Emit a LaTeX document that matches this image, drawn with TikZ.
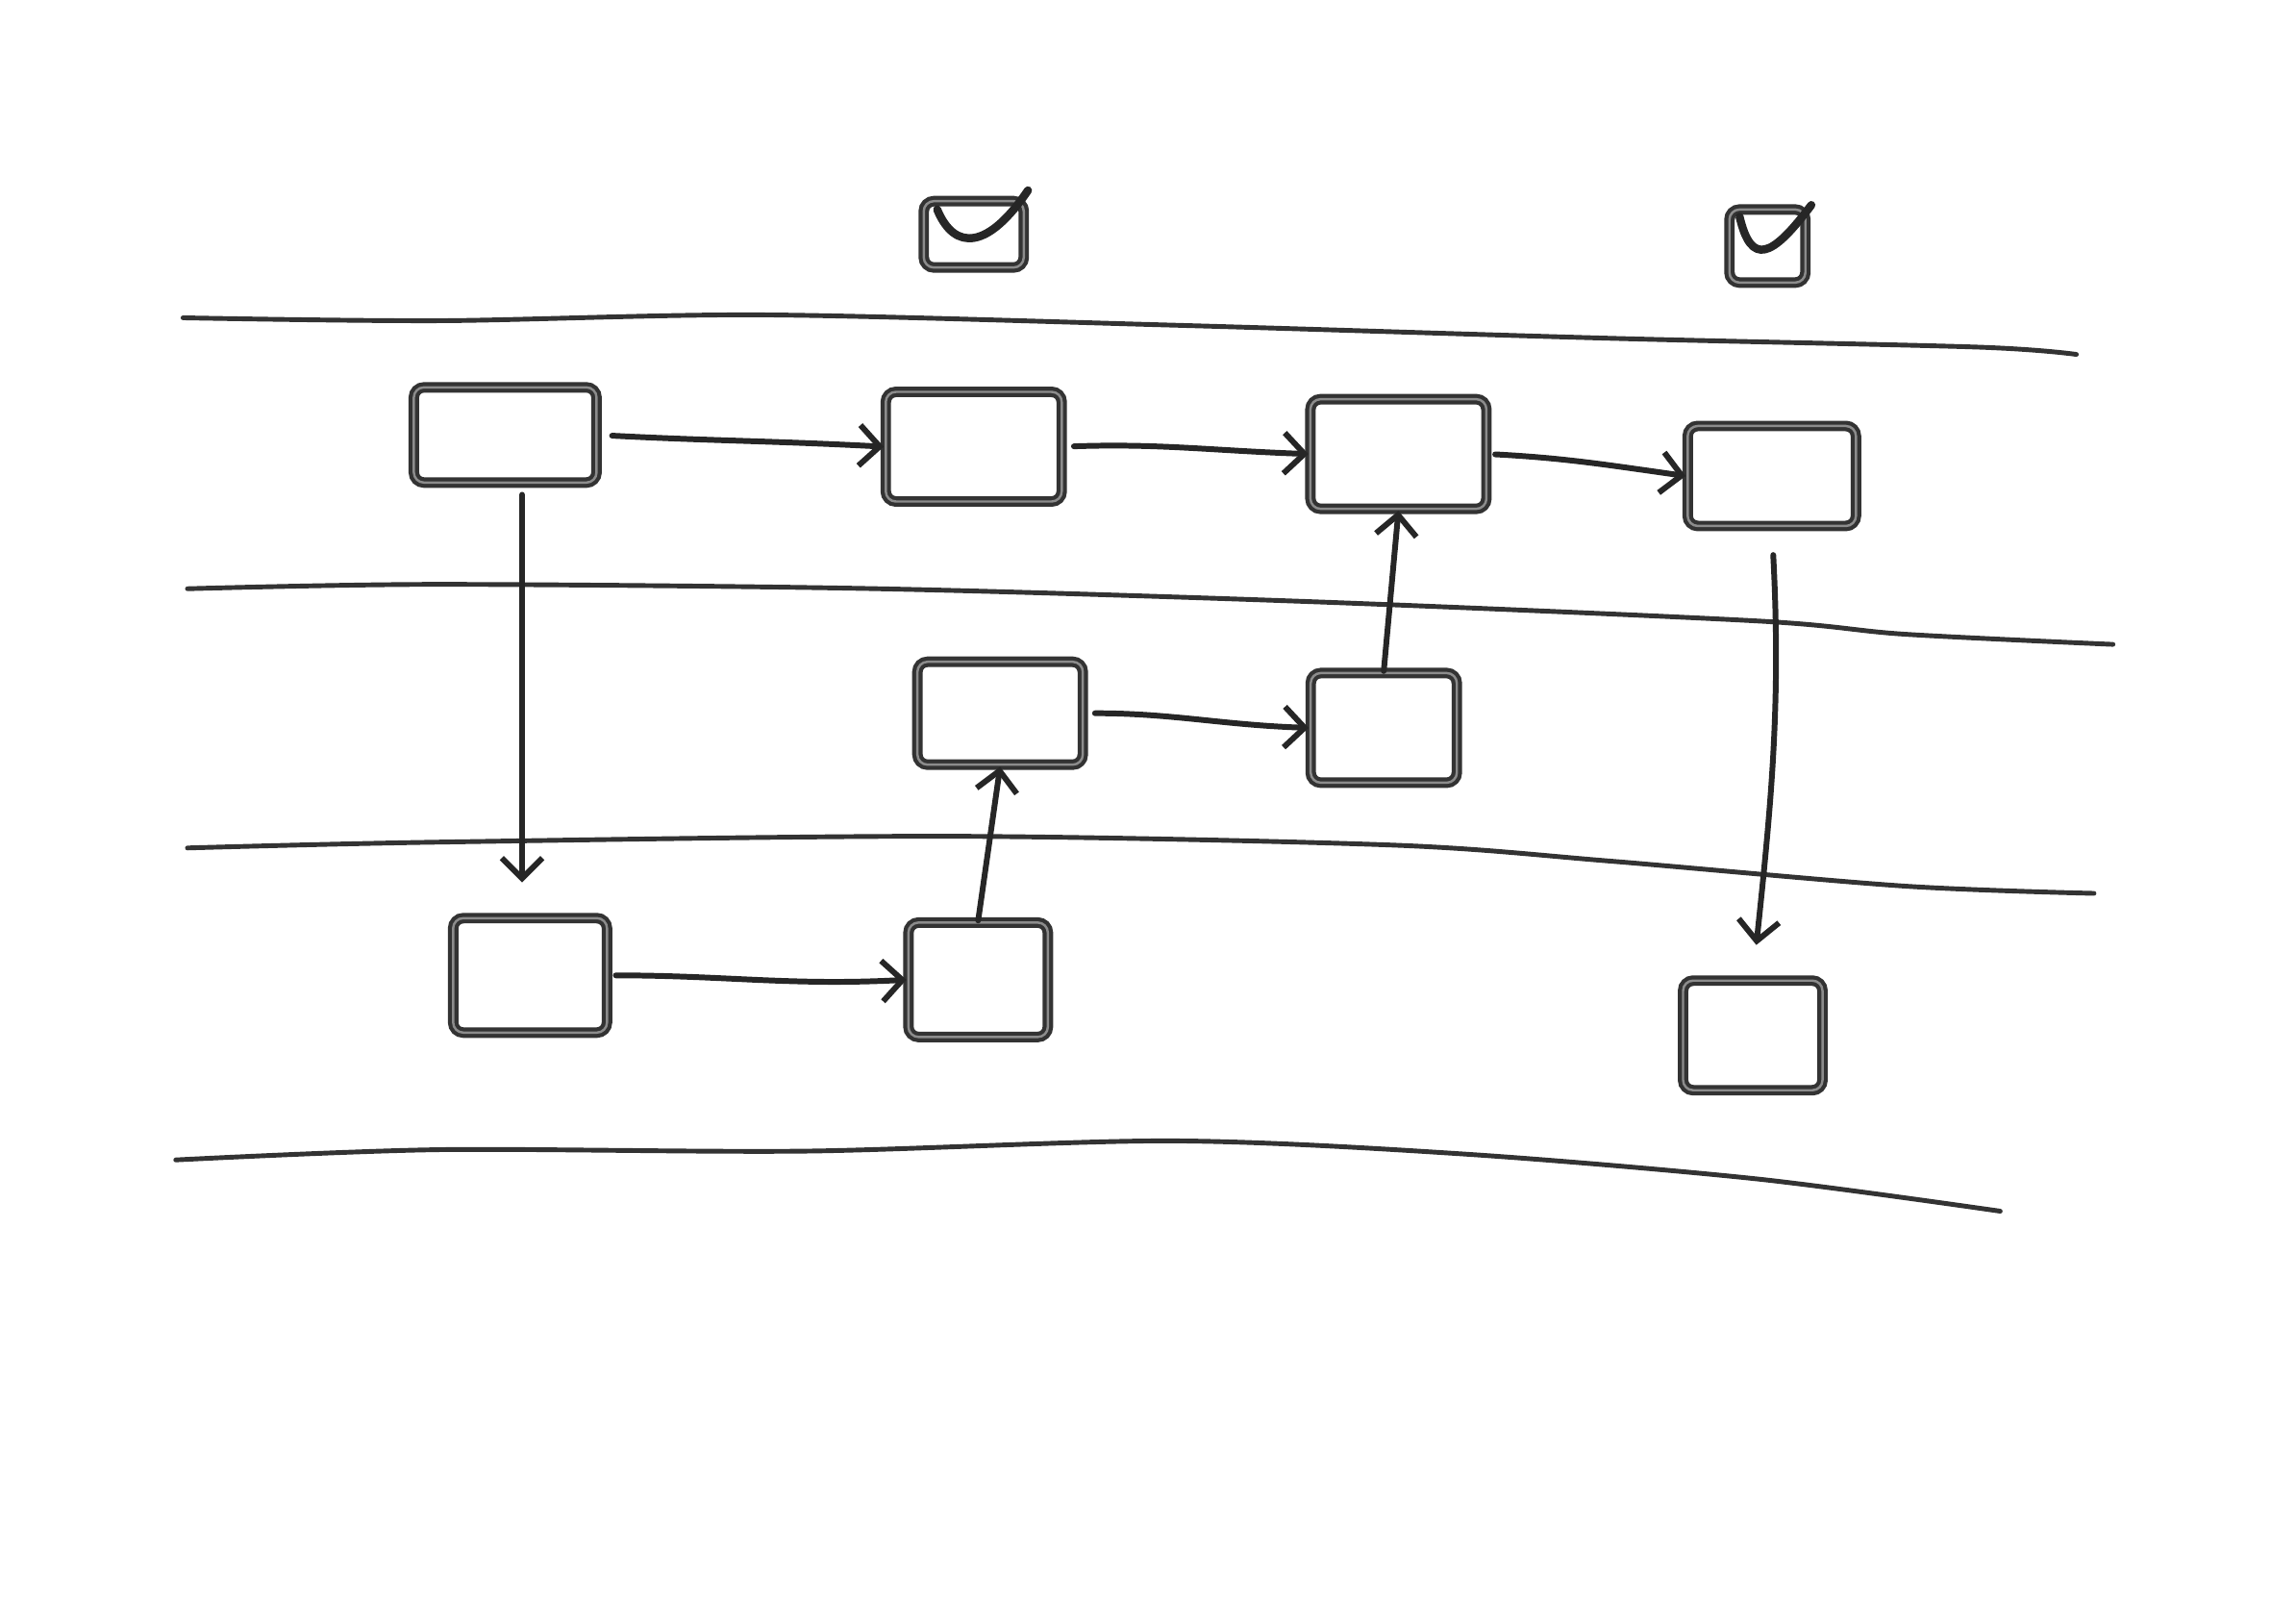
\documentclass[tikz,border=0pt]{standalone}
\usetikzlibrary{arrows.meta}
\tikzset{
  box/.style={draw=black!80, double=black!45, double distance=0.7pt, line width=1.2pt, rounded corners=3pt, inner sep=0pt},
  lane/.style={draw=black!80, line width=1.4pt, line cap=round},
  flow/.style={draw=black!85, line width=1.7pt, line cap=round, ->},
  tickmark/.style={draw=black!85, line width=2.4pt, line cap=round, line join=round},
}
\begin{document}
\begin{tikzpicture}[x=0.01523cm, y=-0.01523cm]
    \tikzset{>={Straight Barb[length=6pt,width=12pt]}}
    \useasboundingbox (0,0) rectangle (1568,1095);
    % lanes
    \draw[lane] plot[smooth] coordinates {(125,217) (300,219) (520,215) (800,222) (1100,231) (1350,237) (1418,242)};
    \draw[lane] plot[smooth] coordinates {(128,402) (300,399) (600,402) (900,411) (1200,424) (1300,433) (1443,440)};
    \draw[lane] plot[smooth] coordinates {(128,579) (300,575) (650,571) (950,577) (1100,588) (1300,605) (1430,610)};
    \draw[lane] plot[smooth] coordinates {(120,792) (300,785) (550,786) (800,779) (1000,788) (1200,805) (1366,827)};
    % done marks
    \node[box, minimum width=1.04cm, minimum height=0.69cm] (K1) at (665,160) {};
    \draw[tickmark] (640,143) .. controls (652,172) and (675,170) .. (702,130);
    \node[box, minimum width=0.79cm, minimum height=0.76cm] (K2) at (1207,168) {};
    \draw[tickmark] (1188,148) .. controls (1196,182) and (1210,176) .. (1237,140);
    % steps
    \node[box, minimum width=1.90cm, minimum height=0.99cm] (A) at (345,297) {};
    \node[box, minimum width=1.83cm, minimum height=1.14cm] (B) at (665,305) {};
    \node[box, minimum width=1.83cm, minimum height=1.14cm] (C) at (955,310) {};
    \node[box, minimum width=1.75cm, minimum height=1.04cm] (D) at (1210,325) {};
    \node[box, minimum width=1.72cm, minimum height=1.07cm] (E) at (683,487) {};
    \node[box, minimum width=1.52cm, minimum height=1.14cm] (F) at (945,497) {};
    \node[box, minimum width=1.60cm, minimum height=1.19cm] (G) at (362,666) {};
    \node[box, minimum width=1.45cm, minimum height=1.19cm] (H) at (668,669) {};
    \node[box, minimum width=1.45cm, minimum height=1.14cm] (I) at (1197,707) {};
    % flow
    \draw[flow, shorten <=4pt] (A.east) to[out=-3,in=177] (B.west);
    \draw[flow, shorten <=3pt] (B.east) to[out=2,in=178] (C.west);
    \draw[flow, shorten <=2pt] (C.east) to[out=-3,in=172] (D.west);
    \draw[flow, shorten <=3pt] (E.east) to[out=0,in=178] (F.west);
    \draw[flow, shorten <=2pt] (G.east) to[out=0,in=183] (H.west);
    \draw[flow] (F.north) -- (C.south);
    \draw[flow] (H.north) -- (E.south);
    \draw[flow, shorten <=3pt, shorten >=10pt] ([xshift=5pt]A.south) -- ([xshift=5pt]A.south |- G.north);
    \draw[flow, shorten <=8pt, shorten >=10pt] (D.south) to[out=-87,in=84] (I.north);
\end{tikzpicture}
\end{document}
